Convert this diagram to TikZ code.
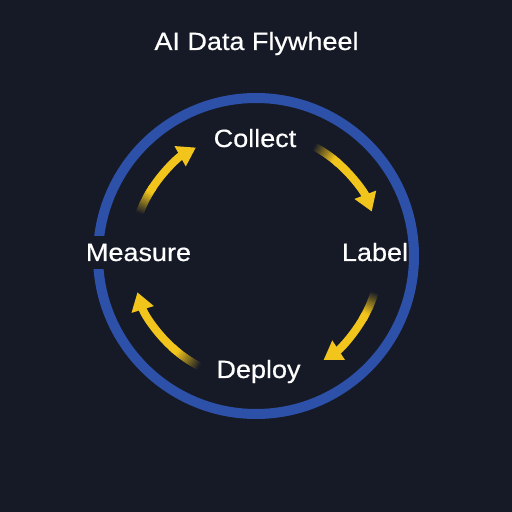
\documentclass[tikz,border=0pt]{standalone}
\usepackage{fontspec}
\setmainfont{Liberation Sans}[FakeStretch=1.08,FakeBold=0.5]
\usetikzlibrary{arrows.meta,calc}
\definecolor{bg}{HTML}{161A27}
\definecolor{ring}{HTML}{2D50A8}
\definecolor{yel}{HTML}{F2C51C}
\newcommand\flyarrow[2]{%
  \pgfmathsetmacro\fspan{#2-#1}%
  \draw[yel,line width=8,-{Triangle[width=22,length=18]}]
    ($(c)+({#1+0.3*\fspan}:124)$) arc[start angle={#1+0.3*\fspan},end angle={#2},radius=124];
  \foreach \i in {0,...,15}{%
    \pgfmathsetmacro\aa{#1+\fspan*0.33*\i/16}%
    \pgfmathsetmacro\bb{#1+\fspan*0.33*(\i+1.4)/16}%
    \pgfmathtruncatemacro\pp{min(100,100*(\i+0.5)/13)}%
    \draw[line width=8,color=yel!\pp!bg]
      ($(c)+(\aa:124)$) arc[start angle=\aa,end angle=\bb,radius=124];
  }%
}
\begin{document}
\begin{tikzpicture}[x=1pt,y=1pt,
  lbl/.style={text=white,font=\fontsize{25}{30}\selectfont,anchor=base,inner sep=0pt}]
\fill[bg] (0,0) rectangle (512,512);
\useasboundingbox (0,0) rectangle (512,512);
\coordinate (c) at (256,256);
\draw[ring,line width=10] (c) circle (158);
\flyarrow{62}{21}
\flyarrow{-17}{-57}
\flyarrow{243}{197}
\flyarrow{160}{119}
\node[lbl] (title) at (256.5,462) {AI Data Flywheel};
\node[lbl] (collect) at (255,365) {Collect};
\node[lbl] (label) at (375,251) {Label};
\node[lbl,fill=bg,inner xsep=4pt,inner ysep=8pt] (measure) at (138.5,251) {Measure};
\node[lbl] (deploy) at (258.5,134) {Deploy};
\end{tikzpicture}
\end{document}
